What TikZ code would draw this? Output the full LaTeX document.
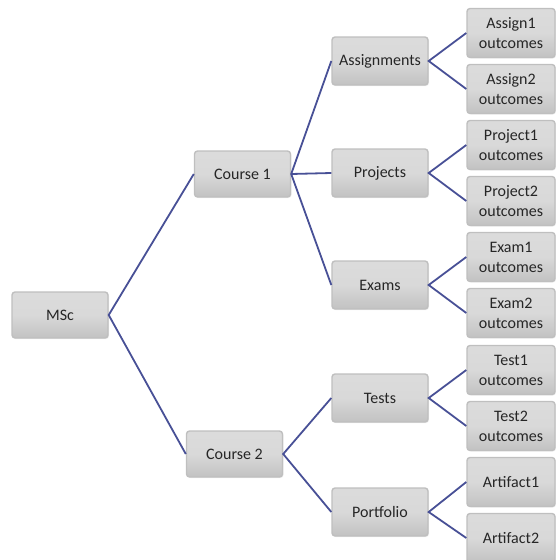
\documentclass[tikz,border=0pt]{standalone}
\usepackage{fontspec}
\setmainfont{Carlito}
\usetikzlibrary{positioning, shadows}
\definecolor{linkblue}{RGB}{72,80,150}
\tikzset{
    box/.style={draw=gray!50, line width=1.4pt, rounded corners=3pt,
        top color=gray!28, bottom color=gray!48, middle color=gray!30,
        drop shadow={opacity=0.15, shadow xshift=1pt, shadow yshift=-1pt},
        font=\fontsize{16}{20}\selectfont, text=black!85, align=center,
        inner sep=0pt},
    topbox/.style={box, minimum width=96pt, minimum height=46pt},
    midbox/.style={box, minimum width=96pt, minimum height=48pt},
    leafbox/.style={box, minimum width=88pt, minimum height=49pt},
    link/.style={linkblue, line width=1.8pt}
}
\begin{document}
\begin{tikzpicture}[x=1pt, y=-1pt]
    \useasboundingbox (0,0) rectangle (555,560);

    % Racine et cours
    \node[topbox] (msc) at (60,315) {MSc};
    \node[topbox] (c1) at (242.5,174) {Course 1};
    \node[topbox] (c2) at (234.5,454) {Course 2};

    % Travaux
    \node[midbox] (asg) at (380,61) {Assignments};
    \node[midbox] (prj) at (380,173) {Projects};
    \node[midbox] (exm) at (380,285) {Exams};
    \node[midbox] (tst) at (380,398) {Tests};
    \node[midbox] (prt) at (380,512) {Portfolio};

    % Résultats
    \node[leafbox] (a1) at (511,33) {Assign1\\outcomes};
    \node[leafbox] (a2) at (511,89) {Assign2\\outcomes};
    \node[leafbox] (p1) at (511,145) {Project1\\outcomes};
    \node[leafbox] (p2) at (511,201) {Project2\\outcomes};
    \node[leafbox] (e1) at (511,257) {Exam1\\outcomes};
    \node[leafbox] (e2) at (511,313) {Exam2\\outcomes};
    \node[leafbox] (t1) at (511,370) {Test1\\outcomes};
    \node[leafbox] (t2) at (511,426) {Test2\\outcomes};
    \node[leafbox] (f1) at (511,482) {Artifact1};
    \node[leafbox] (f2) at (511,538) {Artifact2};

    % Liens
    \draw[link] (c1.west) -- (msc.east) -- (c2.west);
    \draw[link] (asg.west) -- (c1.east) -- (exm.west);
    \draw[link] (c1.east) -- (prj.west);
    \draw[link] (tst.west) -- (c2.east) -- (prt.west);
    \draw[link] (a1.west) -- (asg.east) -- (a2.west);
    \draw[link] (p1.west) -- (prj.east) -- (p2.west);
    \draw[link] (e1.west) -- (exm.east) -- (e2.west);
    \draw[link] (t1.west) -- (tst.east) -- (t2.west);
    \draw[link] (f1.west) -- (prt.east) -- (f2.west);

\end{tikzpicture}
\end{document}
